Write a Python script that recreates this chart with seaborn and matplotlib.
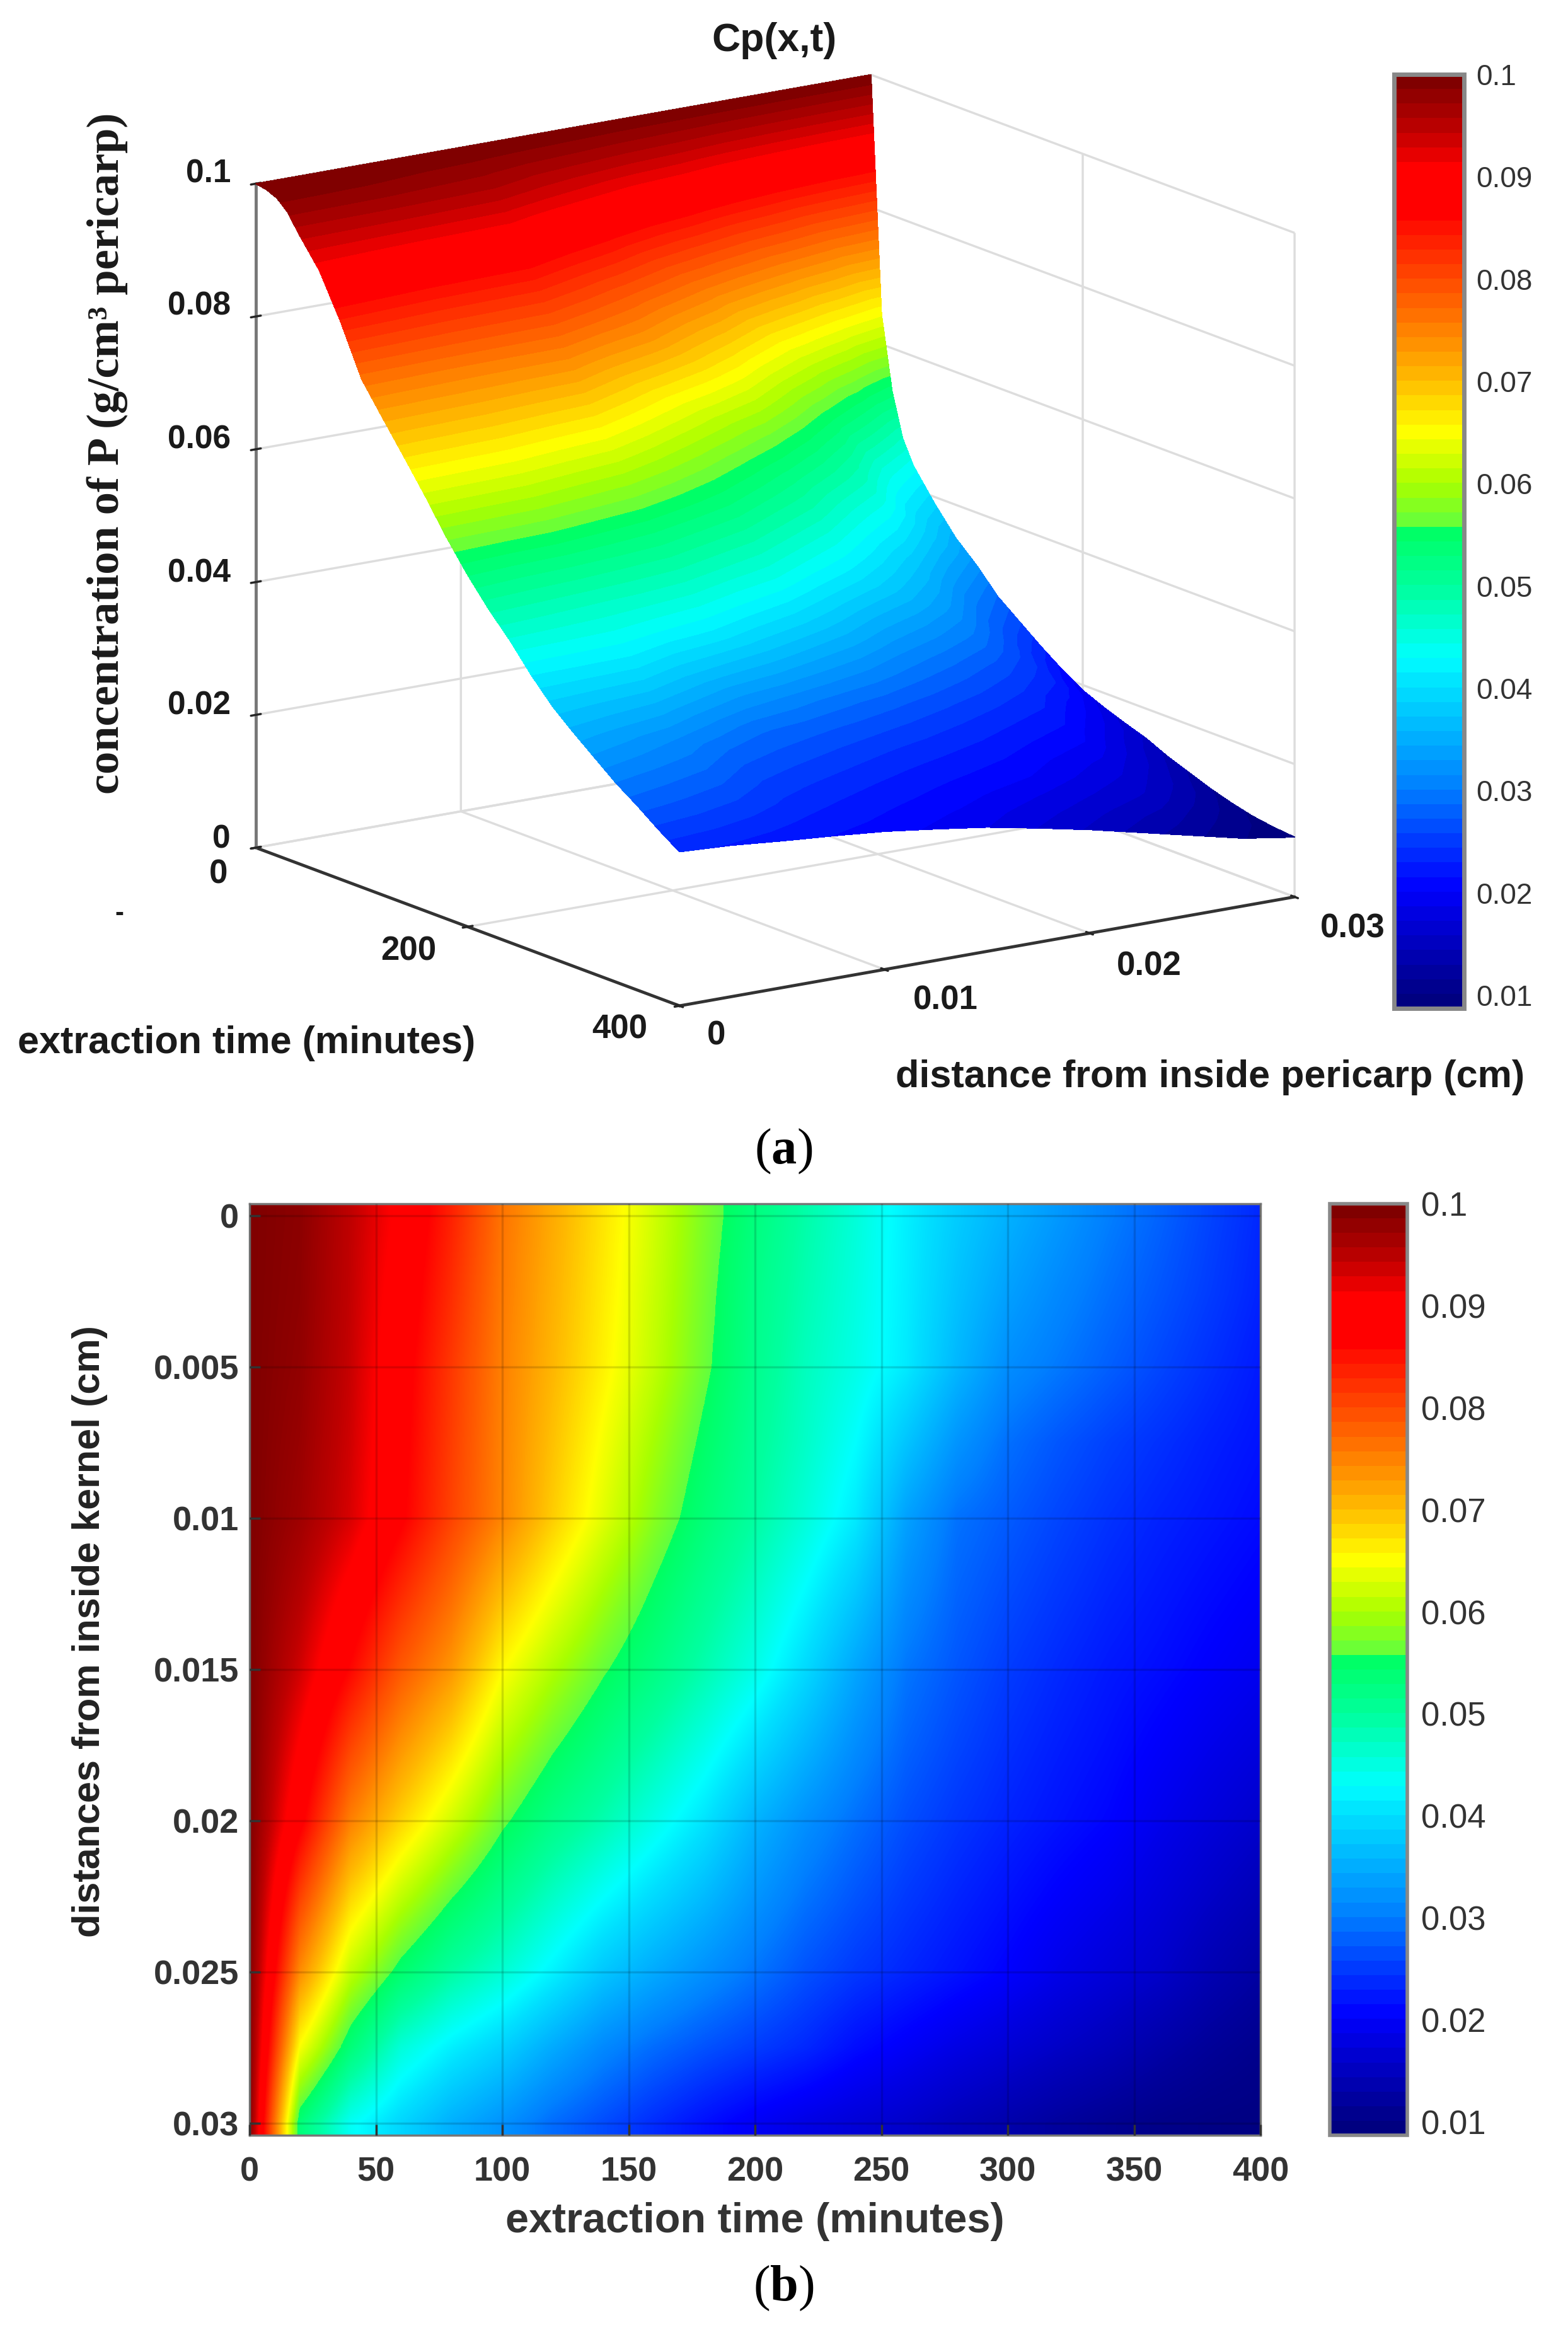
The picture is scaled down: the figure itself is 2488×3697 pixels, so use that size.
import numpy as np
import pandas as pd
import matplotlib
matplotlib.use('Agg')
import matplotlib.pyplot as plt
import seaborn as sns
from matplotlib.cm import ScalarMappable
from matplotlib.colors import LinearSegmentedColormap, Normalize
from mpl_toolkits.mplot3d import proj3d

W, H = 2488, 3697

# extraction time (minutes)
times = [0, 20, 40, 60, 80, 100, 120, 140, 160, 180, 200, 220, 240, 260, 280, 300, 320, 340, 360, 380, 400]
# distance (cm)
distances = [0, 0.0025, 0.005, 0.0075, 0.01, 0.0125, 0.015, 0.0175, 0.02, 0.0225, 0.025, 0.0275, 0.03]

cp_000 = [.1, .099, .095, .0905, .084, .0765, .0718, .0672, .0625, .0575, .053, .049, .0455, .0415, .038, .0352, .0326, .03, .0278, .0254, .0232]
cp_025 = [.1, .0988, .0948, .0895, .083, .076, .0713, .0667, .062, .057, .052, .0483, .045, .0413, .037, .0335, .031, .0288, .0268, .0248, .0228]
cp_050 = [.1, .0985, .0945, .0885, .082, .0755, .0708, .0662, .0615, .0565, .0515, .0475, .0445, .041, .0358, .0315, .0295, .0275, .0256, .0238, .0221]
cp_075 = [.1, .098, .094, .088, .0815, .0752, .0699, .0648, .0598, .055, .0505, .0468, .0428, .0372, .0322, .0288, .0268, .0252, .0239, .0226, .0215]
cp_100 = [.1, .0975, .0935, .0875, .081, .075, .069, .0635, .0582, .0535, .0495, .0455, .041, .0335, .029, .0272, .0255, .024, .0228, .0218, .0208]
cp_125 = [.1, .0958, .09, .0833, .0773, .0703, .0648, .0598, .0553, .051, .047, .0425, .0375, .0314, .0279, .026, .0244, .023, .0219, .0208, .0198]
cp_150 = [.1, .094, .0865, .079, .0735, .0655, .0605, .0562, .0525, .0485, .0445, .0395, .034, .0293, .0268, .0248, .0233, .022, .021, .0198, .0187]
cp_175 = [.1, .091, .081, .0738, .068, .061, .0563, .0524, .0485, .0445, .04, .0357, .0314, .0278, .0256, .0238, .0224, .0212, .0198, .0184, .0172]
cp_200 = [.1, .088, .0755, .0685, .0625, .0565, .052, .0485, .0445, .0405, .0355, .0318, .0288, .0262, .0243, .0228, .0215, .0203, .0185, .017, .0156]
cp_225 = [.1, .0813, .0685, .0615, .056, .0513, .0469, .043, .0395, .0362, .0324, .0292, .0267, .0246, .0229, .0214, .0199, .0186, .017, .0153, .0138]
cp_250 = [.1, .0745, .0615, .0545, .0495, .046, .0418, .0375, .0345, .0318, .0292, .0265, .0245, .023, .0215, .02, .0182, .0168, .0155, .0135, .012]
cp_275 = [.1, .065, .0535, .0455, .0415, .0385, .0345, .031, .0285, .0265, .0248, .0232, .021, .0194, .0178, .0165, .0152, .014, .0125, .0112, .0102]
cp_300 = [.1, .0535, .0435, .039, .035, .032, .0285, .026, .0235, .0212, .0192, .0178, .0166, .0155, .014, .0128, .0116, .0106, .0098, .0093, .009]

# extra early readings off the surface edge in (a), one value per distance
cp_t10 = [.0997, .0995, .0993, .099, .0988, .0982, .0975, .096, .0945, .0905, .0855, .077, .0645]
cp_t30 = [.0975, .0972, .097, .0965, .096, .0935, .0905, .086, .081, .0745, .067, .0585, .047]

time_ticks_3d = [0, 200, 400]
dist_ticks_3d = [0, 0.01, 0.02, 0.03]
conc_ticks_3d = [0, 0.02, 0.04, 0.06, 0.08, 0.1]
time_ticks = [0, 50, 100, 150, 200, 250, 300, 350, 400]
dist_ticks = [0, 0.005, 0.01, 0.015, 0.02, 0.025, 0.03]
dist_tick_labels = ['0', '0.005', '0.01', '0.015', '0.02', '0.025', '0.03']
cbar_ticks = [0.01, 0.02, 0.03, 0.04, 0.05, 0.06, 0.07, 0.08, 0.09, 0.1]
cbar_tick_labels = ['0.01', '0.02', '0.03', '0.04', '0.05', '0.06', '0.07', '0.08', '0.09', '0.1']

color_stops = [(0.0087, '#000080'), (0.01, '#00008c'), (0.02, '#0000ff'), (0.0226, '#0020ff'), (0.03, '#0080ff'),
               (0.04, '#00e0ff'), (0.0428, '#00ffff'), (0.0496, '#00ffa0'), (0.0558, '#00ff60'),
               (0.0558, '#60ff40'), (0.06, '#a8ff00'), (0.0653, '#ffff00'), (0.07, '#ffc000'),
               (0.0755, '#ff8000'), (0.087, '#ff0000'), (0.0914, '#ff0000'), (0.095, '#c00000'),
               (0.1, '#800000')]

sns.set_style('white')
plt.rcParams['font.family'] = ['Liberation Sans', 'DejaVu Sans']
plt.rcParams['mathtext.fontset'] = 'custom'
plt.rcParams['mathtext.rm'] = 'Liberation Serif'
plt.rcParams['mathtext.bf'] = 'Liberation Serif:bold'

df = pd.DataFrame([cp_000, cp_025, cp_050, cp_075, cp_100, cp_125, cp_150, cp_175, cp_200, cp_225,
                   cp_250, cp_275, cp_300], index=distances, columns=times)
df_surf = df.copy()
df_surf[10] = cp_t10
df_surf[30] = cp_t30
df_surf = df_surf.sort_index(axis=1)

norm = Normalize(0.0087, 0.1)
stops = [(round((v - 0.0087) / (0.1 - 0.0087), 6), c) for v, c in color_stops]
cmap = LinearSegmentedColormap.from_list('cp_jet', stops, N=64)
cmap_smooth = LinearSegmentedColormap.from_list('cp_jet_s', stops, N=512)


def box(x0, y0, x1, y1):
    # pixel box (top-down) to figure fractions
    return [x0 / W, 1 - y1 / H, (x1 - x0) / W, (y1 - y0) / H]


fig = plt.figure(figsize=(W / 100, H / 100), dpi=100, facecolor='white')

# ---- (a) surface
ax3 = fig.add_axes(box(200, 0, 2100, 1900), projection='3d', proj_type='ortho')
ax3.view_init(elev=14.9, azim=-34.56)
ax3.set_box_aspect((1, 1, 0.92))
ax3.set_xlim(0, 400, view_margin=0)
ax3.set_ylim(0, 0.03, view_margin=0)
ax3.set_zlim(0, 0.1, view_margin=0)
ax3.patch.set_alpha(0)
ax3.set_xticks(time_ticks_3d)
ax3.set_yticks(dist_ticks_3d)
ax3.set_zticks(conc_ticks_3d)
ax3.set_xticklabels([])
ax3.set_yticklabels([])
ax3.set_zticklabels([])
ax3.zaxis.set_ticks_position('lower')
for axis, col in [(ax3.xaxis, '#333333'), (ax3.yaxis, '#333333'), (ax3.zaxis, '#777777')]:
    axis.set_pane_color((1, 1, 1, 0))
    axis.pane.set_edgecolor('none')
    axis.line.set_color(col)
    axis.line.set_linewidth(3.5)
    axis._axinfo['grid'].update(color='#dddddd', linewidth=2.5)
    axis._axinfo['tick'].update(color='#333333', linewidth={True: 2.5, False: 1.5},
                                inward_factor=0.1, outward_factor=0.1)


def to_pixels(x, y, z):
    # through the 3d axes projection, then top-down pixels
    px, py, _ = proj3d.proj_transform(np.ravel(x), np.ravel(y), np.ravel(z), ax3.get_proj())
    pts = ax3.transData.transform(np.column_stack([px, py]))
    return pts[:, 0], H - pts[:, 1]


# fit the box to its place on the page
target_a = np.array([406.0, 1345.0])
target_c = np.array([2054.0, 1426.0])
for _ in range(3):
    fig.canvas.draw()
    xs, ys = to_pixels([0, 400], [0, 0.03], [0, 0])
    now_a = np.array([xs[0], ys[0]])
    now_c = np.array([xs[1], ys[1]])
    scale = np.linalg.norm(target_c - target_a) / np.linalg.norm(now_c - now_a)
    pos = ax3.get_position()
    new_w = pos.width * scale
    new_h = pos.height * scale
    cx = pos.x0 + pos.width / 2
    cy = pos.y0 + pos.height / 2
    ax3.set_position([cx - new_w / 2, cy - new_h / 2, new_w, new_h])
    fig.canvas.draw()
    xs, ys = to_pixels([0], [0], [0])
    pos = ax3.get_position()
    ax3.set_position([pos.x0 + (target_a[0] - xs[0]) / W, pos.y0 - (target_a[1] - ys[0]) / H, pos.width, pos.height])
fig.canvas.draw()

# overlay in pixels, holds the surface bands and the labels
ov = fig.add_axes([0, 0, 1, 1], zorder=5)
ov.set_xlim(0, W)
ov.set_ylim(H, 0)
ov.axis('off')
ov.patch.set_alpha(0)

T, D = np.meshgrid(df_surf.columns.values, distances)
sx, sy = to_pixels(T, D, df_surf.values)
bands = ov.contourf(sx.reshape(T.shape), sy.reshape(T.shape), df_surf.values, levels=np.linspace(0.0087, 0.1, 65),
                    cmap=cmap, norm=norm, extend='both')
bands.set_edgecolor('face')
bands.set_linewidth(0.6)

lab = dict(fontweight='bold', color='#1a1a1a', ha='center', va='center')
for v, yy in zip(['0.1', '0.08', '0.06', '0.04', '0.02', '0'], [276, 486, 698, 910, 1120, 1332]):
    ov.text(366, yy, v, fontsize=37, fontweight='bold', color='#1a1a1a', ha='right', va='center')
for v, xx, yy in [('0', 347, 1387), ('200', 648, 1509), ('400', 983, 1634),
                  ('0', 1137, 1644), ('0.01', 1500, 1587), ('0.02', 1823, 1533), ('0.03', 2146, 1474)]:
    ov.text(xx, yy, v, fontsize=38, **lab)
ov.text(391, 1655, 'extraction time (minutes)', fontsize=44, **lab)
ov.text(1920, 1710, 'distance from inside pericarp (cm)', fontsize=44, **lab)
ov.text(1229, 64, 'Cp(x,t)', fontsize=45, **lab)
ov.text(189, 1450, '-', fontsize=30, **lab)
ov.text(170, 719, 'concentration of P (g/cm³ pericarp)', fontsize=52, rotation=90, fontweight='bold',
        family='Liberation Serif', color='#1a1a1a', ha='center', va='center')
ov.text(1243, 1827, r'($\mathbf{a}$)', fontsize=58, family='Liberation Serif', color='black', ha='center', va='center')
ov.text(1243, 3631, r'($\mathbf{b}$)', fontsize=58, family='Liberation Serif', color='black', ha='center', va='center')

cax_a = fig.add_axes(box(2212, 118, 2323, 1600))
cb_a = fig.colorbar(ScalarMappable(norm=norm, cmap=cmap), cax=cax_a)
cb_a.set_ticks(cbar_ticks, labels=cbar_tick_labels)
cax_a.tick_params(axis='y', direction='in', length=14, width=2.5, color='#333333', labelsize=33,
                  labelcolor='#333333', pad=14)
cb_a.outline.set_edgecolor('#888888')
cb_a.outline.set_linewidth(5)

# ---- (b) heatmap
ax = fig.add_axes(box(396, 1910, 2000, 3388))
cax_b = fig.add_axes(box(2110, 1910, 2233, 3388))
sns.heatmap(df, ax=ax, cbar_ax=cax_b, cmap=cmap, norm=norm, xticklabels=False, yticklabels=False)
# same table through the image renderer so the cells blend
ax.imshow(df.values, extent=(0, len(times), len(distances), 0), cmap=cmap_smooth, norm=norm, aspect='auto',
          interpolation='bilinear', zorder=2)

time_pos = [t / 20 + 0.5 for t in time_ticks]
dist_pos = [d / 0.0025 + 0.5 for d in dist_ticks]
ax.set_xlim(0.5, 20.5)
ax.set_ylim(12.66, 0.34)
ax.set_xticks(time_pos, labels=[str(t) for t in time_ticks])
ax.set_yticks(dist_pos, labels=dist_tick_labels)
ax.tick_params(axis='both', direction='in', length=12, width=2.5, color='#333333', labelsize=39,
               labelcolor='#333333', bottom=True, left=True)
ax.tick_params(axis='x', pad=24)
ax.tick_params(axis='y', pad=12)
for lbl in ax.get_xticklabels() + ax.get_yticklabels():
    lbl.set_fontweight('bold')
    lbl.set_rotation(0)
ax.grid(True, color='black', alpha=0.14, linewidth=2.5, zorder=3)
ax.set_axisbelow(False)
for sp in ax.spines.values():
    sp.set_visible(True)
    sp.set_color('#777777')
    sp.set_linewidth(2.5)
ax.set_xlabel('extraction time (minutes)', fontsize=48, fontweight='bold', color='#333333')
ax.xaxis.set_label_coords(0.5, -0.0716)
ax.set_ylabel('distances from inside kernel (cm)', fontsize=44, fontweight='bold', color='#222222')
ax.yaxis.set_label_coords(-0.14, 0.541)

cb_b = ax.collections[0].colorbar
cb_b.set_ticks(cbar_ticks, labels=cbar_tick_labels)
cax_b.tick_params(axis='y', direction='in', length=14, width=2.5, color='#333333', labelsize=38,
                  labelcolor='#333333', pad=16, right=True)
cb_b.outline.set_visible(True)
cb_b.outline.set_edgecolor('#888888')
cb_b.outline.set_linewidth(4)

plt.savefig('out.png', dpi=100, facecolor='white')
